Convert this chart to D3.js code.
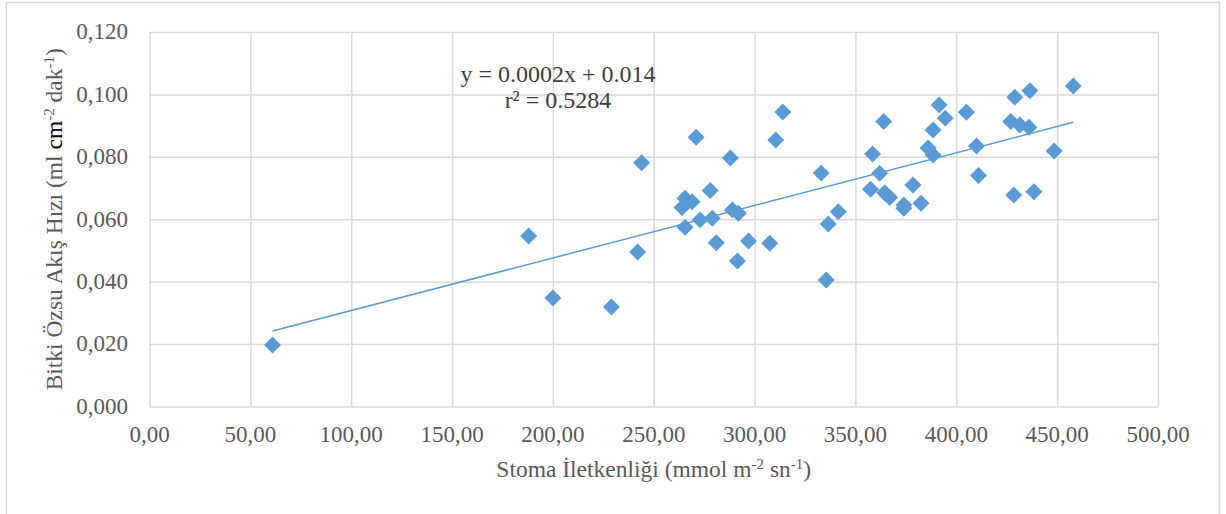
<!DOCTYPE html>
<html>
  <head>
    <meta charset="utf-8">
    <script src="https://d3js.org/d3.v7.min.js"></script>
    <style>
      body { margin: 0px; background: #fff; }
      .domain { display: none; }
      .tick line { stroke: #d9d9d9; stroke-width: 1.5; }
      .tick-label { fill: #595959; font-size: 23px; font-family: "Liberation Serif", serif; }
      .axis-label { fill: #595959; font-size: 23.5px; font-family: "Liberation Serif", serif; }
      .eq-label { fill: #404040; font-size: 24px; font-family: "Liberation Serif", serif; }
    </style>
  </head>
  <body>
    <svg width="1226" height="514"></svg>
    <script>
      // stoma conductance (mmol m-2 s-1) vs sap flow rate
      const conductance = [61, 188, 200, 229, 242, 244, 271, 314, 310.5, 288,
        278, 265.5, 269, 264, 265.5, 273, 279, 289, 292, 281,
        297, 307.5, 291.5, 333, 341.5, 336.5, 335.5, 364, 358.5, 362,
        357.5, 364.5, 367, 378.5, 374, 374, 382.5, 391.5, 394.5, 388.5,
        386, 388.5, 405, 410, 411, 429, 436.5, 458, 427, 431.5,
        436, 448.5, 428.5, 438.5];
      const sapFlow = [0.0197, 0.0546, 0.0348, 0.0319, 0.0495, 0.0781, 0.0863, 0.0944, 0.0854, 0.0796,
        0.0692, 0.0667, 0.0656, 0.0638, 0.0574, 0.0598, 0.0603, 0.0630, 0.0619, 0.0525,
        0.0530, 0.0523, 0.0466, 0.0748, 0.0624, 0.0585, 0.0405, 0.0913, 0.0809, 0.0747,
        0.0696, 0.0685, 0.0670, 0.0710, 0.0646, 0.0635, 0.0651, 0.0966, 0.0924, 0.0886,
        0.0828, 0.0806, 0.0943, 0.0835, 0.0740, 0.0991, 0.1012, 0.1027, 0.0913, 0.0902,
        0.0895, 0.0819, 0.0678, 0.0688];
      const xTicks = [0, 50, 100, 150, 200, 250, 300, 350, 400, 450, 500];
      const yTicks = [0, 0.02, 0.04, 0.06, 0.08, 0.1, 0.12];
      const trendSlope = 0.0001685;
      const trendIntercept = 0.0139;
      const equationText = 'y = 0.0002x + 0.014';
      const rSquaredText = 'r² = 0.5284';

      const data = conductance.map((x, i) => ({ x: x, y: sapFlow[i] }));

      const margin = { left: 149.5, right: 68, top: 32, bottom: 107.5 };
      const svg = d3.select('svg');
      const width = +svg.attr('width');
      const height = +svg.attr('height');
      const innerWidth = width - margin.left - margin.right;
      const innerHeight = height - margin.top - margin.bottom;

      // outer chart frame: left, top, right edges only (bottom is outside the picture)
      svg.append('path')
          .attr('d', `M6.5,${height}V2.5H1219.5V${height}`)
          .attr('fill', 'none')
          .attr('stroke', '#d9d9d9')
          .attr('stroke-width', 1.5);

      const g = svg.append('g')
          .attr('transform', `translate(${margin.left},${margin.top})`);

      const xScale = d3.scaleLinear().domain([0, 500]).range([0, innerWidth]);
      const yScale = d3.scaleLinear().domain([0, 0.12]).range([innerHeight, 0]);
      const comma = d3.formatLocale({ decimal: ',', thousands: '.', grouping: [3], currency: ['', ''] });
      const xFmt = comma.format('.2f');
      const yFmt = comma.format('.3f');

      // gridlines from the axes (their empty labels removed), labels drawn separately
      g.append('g')
          .attr('transform', `translate(0, ${innerHeight})`)
          .call(d3.axisBottom(xScale).tickValues(xTicks).tickSize(-innerHeight))
          .call(a => a.selectAll('.tick text').remove());
      g.append('g')
          .call(d3.axisLeft(yScale).tickValues(yTicks).tickSize(-innerWidth))
          .call(a => a.selectAll('.tick text').remove());

      g.selectAll('.x-label').data(xTicks)
        .enter().append('text')
          .attr('class', 'tick-label')
          .attr('x', d => xScale(d))
          .attr('y', innerHeight + 35.5)
          .attr('text-anchor', 'middle')
          .text(xFmt);

      g.selectAll('.y-label').data(yTicks)
        .enter().append('text')
          .attr('class', 'tick-label')
          .attr('x', -21.5)
          .attr('y', d => yScale(d))
          .attr('dy', '0.32em')
          .attr('text-anchor', 'end')
          .text(yFmt);

      // trend line
      const xExt = d3.extent(conductance);
      g.append('line')
          .attr('x1', xScale(xExt[0]))
          .attr('y1', yScale(trendIntercept + trendSlope * xExt[0]))
          .attr('x2', xScale(xExt[1]))
          .attr('y2', yScale(trendIntercept + trendSlope * xExt[1]))
          .attr('stroke', '#5b9bd5')
          .attr('stroke-width', 1.5);

      // diamond markers
      const diamond = d3.symbol(d3.symbolSquare, 144);
      g.selectAll('.pt').data(data)
        .enter().append('path')
          .attr('class', 'pt')
          .attr('d', diamond)
          .attr('fill', '#5b9bd5')
          .attr('transform', d => `translate(${xScale(d.x)},${yScale(d.y)}) rotate(45)`);

      // equation
      g.append('text')
          .attr('class', 'eq-label')
          .attr('x', 558 - margin.left)
          .attr('y', 81.5 - margin.top)
          .attr('text-anchor', 'middle')
          .text(equationText);
      g.append('text')
          .attr('class', 'eq-label')
          .attr('x', 558 - margin.left)
          .attr('y', 108 - margin.top)
          .attr('text-anchor', 'middle')
          .text(rSquaredText);

      // x axis title
      const xt = g.append('text')
          .attr('class', 'axis-label')
          .attr('x', innerWidth / 2)
          .attr('y', 476.5 - margin.top)
          .attr('text-anchor', 'middle');
      xt.append('tspan').text('Stoma İletkenliği (mmol m');
      xt.append('tspan').attr('dy', -8).style('font-size', '15px').text('-2');
      xt.append('tspan').attr('dy', 8).text(' sn');
      xt.append('tspan').attr('dy', -8).style('font-size', '15px').text('-1');
      xt.append('tspan').attr('dy', 8).text(')');

      // y axis title
      const yt = g.append('text')
          .attr('class', 'axis-label')
          .attr('transform', `translate(${62 - margin.left}, ${innerHeight / 2}) rotate(-90)`)
          .attr('text-anchor', 'middle');
      yt.append('tspan').text('Bitki Özsu Akış Hızı (ml ');
      yt.append('tspan').style('fill', '#000').text('cm');
      yt.append('tspan').attr('dy', -8).style('font-size', '15px').text('-2');
      yt.append('tspan').attr('dy', 8).text(' dak');
      yt.append('tspan').attr('dy', -8).style('font-size', '15px').text('-1');
      yt.append('tspan').attr('dy', 8).text(')');
    </script>
  </body>
</html>
